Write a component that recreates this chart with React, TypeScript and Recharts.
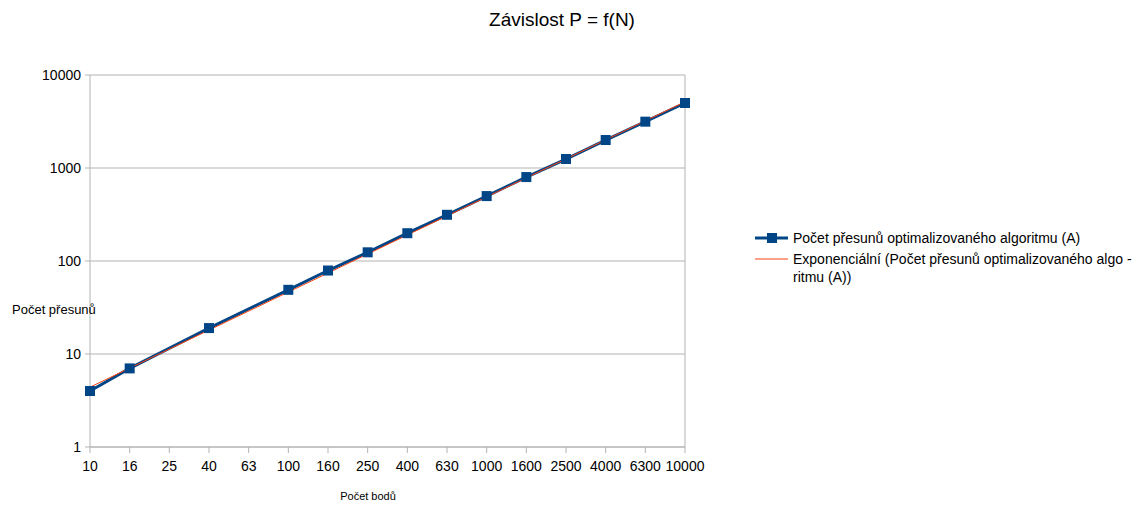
import React from "react";
import { LineChart, Line, CartesianGrid, XAxis, YAxis, ReferenceLine } from "recharts";

const categories = ["10", "16", "25", "40", "63", "100", "160", "250", "400", "630", "1000", "1600", "2500", "4000", "6300", "10000"];
const moves = [4, 7, null, 19, null, 49, 79, 124, 199, 314, 499, 799, 1249, 1999, 3149, 4999];
const trend = [4.4, null, null, null, null, null, null, null, null, null, null, null, null, null, null, 5150];
const yTicks = [1, 10, 100, 1000, 10000];

const data = categories.map((c, i) => ({ name: c, moves: moves[i], trend: trend[i] }));

const BLUE = "#004586";
const RED = "#ff420e";
const GRID = "#b3b3b3";
const FONT = "'Liberation Sans', Arial, sans-serif";

function SquareDot(props: any) {
  const { cx, cy, value } = props;
  if (value == null || cx == null || cy == null) return null;
  return <rect x={cx - 5} y={cy - 5} width={10} height={10} fill={BLUE} />;
}

export default function App() {
  return (
    <div style={{ position: "absolute", left: 0, top: 0, width: 1145, height: 507, overflow: "hidden", background: "#fff", fontFamily: FONT }}>
      <div style={{ position: "absolute", left: 462, width: 200, top: 9, textAlign: "center", fontSize: 19, whiteSpace: "nowrap" }}>
        Závislost P = f(N)
      </div>
      <LineChart width={1145} height={507} data={data} margin={{ top: 75, right: 460, bottom: 30, left: 30 }}>
        <CartesianGrid stroke={GRID} vertical={false} />
        <XAxis
          dataKey="name"
          scale="point"
          padding={{ left: 0, right: 0 }}
          interval={0}
          height={30}
          stroke={GRID}
          tickSize={6}
          tickMargin={8}
          tick={{ fill: "#000", fontSize: 14, fontFamily: FONT }}
        />
        <YAxis
          scale="log"
          domain={[1, 10000]}
          ticks={yTicks}
          allowDataOverflow
          width={60}
          stroke={GRID}
          tickSize={5}
          tickMargin={4}
          tick={{ fill: "#000", fontSize: 14, fontFamily: FONT }}
        />
        <ReferenceLine x="10000" stroke={GRID} />
        <Line
          dataKey="moves"
          stroke={BLUE}
          strokeWidth={3}
          connectNulls
          dot={<SquareDot />}
          activeDot={false}
          isAnimationActive={false}
          type="linear"
        />
        <Line
          dataKey="trend"
          stroke={RED}
          strokeWidth={1}
          connectNulls
          dot={false}
          activeDot={false}
          isAnimationActive={false}
          type="linear"
        />
      </LineChart>
      <div style={{ position: "absolute", left: 12, top: 302, fontSize: 13 }}>Počet přesunů</div>
      <div style={{ position: "absolute", left: 318, width: 100, textAlign: "center", top: 490, fontSize: 11 }}>Počet bodů</div>
      <div style={{ position: "absolute", left: 755, top: 228, fontSize: 14, lineHeight: "18px", whiteSpace: "nowrap" }}>
        <div style={{ display: "flex", alignItems: "center", height: 20 }}>
          <svg width={33} height={10} style={{ marginRight: 5 }}>
            <line x1={0} y1={5} x2={33} y2={5} stroke={BLUE} strokeWidth={3} />
            <rect x={12} y={0} width={10} height={10} fill={BLUE} />
          </svg>
          <span>Počet přesunů optimalizovaného algoritmu (A)</span>
        </div>
        <div style={{ display: "flex", alignItems: "flex-start", marginTop: 2 }}>
          <svg width={33} height={18} style={{ marginRight: 5, flexShrink: 0 }}>
            <line x1={0} y1={9} x2={33} y2={9} stroke={RED} strokeWidth={1} />
          </svg>
          <span>
            Exponenciální (Počet přesunů optimalizovaného algo -<br />ritmu (A))
          </span>
        </div>
      </div>
    </div>
  );
}
